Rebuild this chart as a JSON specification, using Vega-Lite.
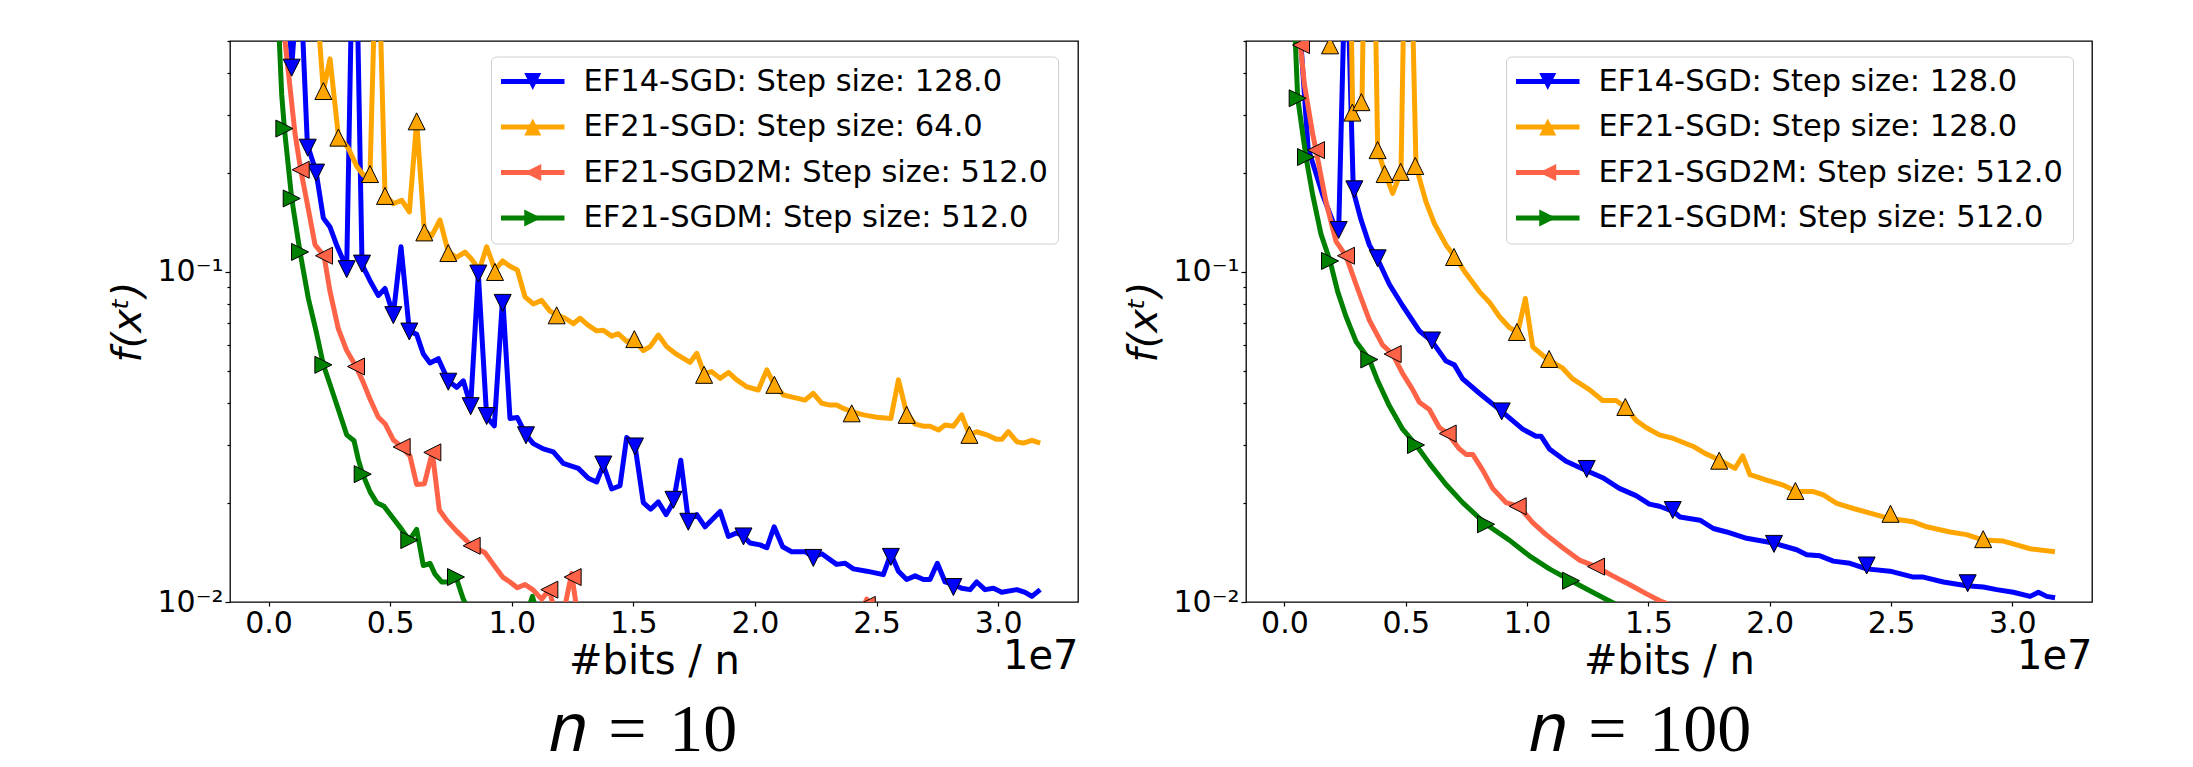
{
  "$schema": "https://vega.github.io/schema/vega-lite/v6.json",
  "autosize": {"type": "none"},
  "padding": {"left": 230, "top": 41, "right": 1963, "bottom": 726},
  "background": "white",
  "spacing": 168,
  "bounds": "flush",
  "datasets": {
    "lines10": [
      {"method":"EF14-SGD","x":0,"f":4},{"method":"EF14-SGD","x":0.063,"f":1.2},{"method":"EF14-SGD","x":0.0952,"f":0.416},{"method":"EF14-SGD","x":0.127,"f":0.9},{"method":"EF14-SGD","x":0.1597,"f":0.243},{"method":"EF14-SGD","x":0.1953,"f":0.2015},{"method":"EF14-SGD","x":0.2254,"f":0.1456},{"method":"EF14-SGD","x":0.2528,"f":0.1368},{"method":"EF14-SGD","x":0.2829,"f":0.1192},{"method":"EF14-SGD","x":0.3214,"f":0.1027},{"method":"EF14-SGD","x":0.353,"f":2.0},{"method":"EF14-SGD","x":0.3844,"f":0.1053},{"method":"EF14-SGD","x":0.4172,"f":0.0941},{"method":"EF14-SGD","x":0.4515,"f":0.0848},{"method":"EF14-SGD","x":0.4789,"f":0.0891},{"method":"EF14-SGD","x":0.5131,"f":0.0742},{"method":"EF14-SGD","x":0.5447,"f":0.1192},{"method":"EF14-SGD","x":0.5789,"f":0.0663},{"method":"EF14-SGD","x":0.6091,"f":0.0647},{"method":"EF14-SGD","x":0.6365,"f":0.0564},{"method":"EF14-SGD","x":0.6639,"f":0.053},{"method":"EF14-SGD","x":0.6981,"f":0.0546},{"method":"EF14-SGD","x":0.7392,"f":0.0468},{"method":"EF14-SGD","x":0.7735,"f":0.0447},{"method":"EF14-SGD","x":0.8009,"f":0.0468},{"method":"EF14-SGD","x":0.8311,"f":0.0393},{"method":"EF14-SGD","x":0.8626,"f":0.0989},{"method":"EF14-SGD","x":0.8969,"f":0.0364},{"method":"EF14-SGD","x":0.9284,"f":0.0342},{"method":"EF14-SGD","x":0.9627,"f":0.0841},{"method":"EF14-SGD","x":0.9928,"f":0.036},{"method":"EF14-SGD","x":1.023,"f":0.0362},{"method":"EF14-SGD","x":1.0586,"f":0.0321},{"method":"EF14-SGD","x":1.0888,"f":0.0302},{"method":"EF14-SGD","x":1.1299,"f":0.0291},{"method":"EF14-SGD","x":1.171,"f":0.0285},{"method":"EF14-SGD","x":1.2121,"f":0.0263},{"method":"EF14-SGD","x":1.2738,"f":0.0254},{"method":"EF14-SGD","x":1.315,"f":0.0237},{"method":"EF14-SGD","x":1.3492,"f":0.0231},{"method":"EF14-SGD","x":1.3766,"f":0.026},{"method":"EF14-SGD","x":1.4109,"f":0.022},{"method":"EF14-SGD","x":1.4452,"f":0.0225},{"method":"EF14-SGD","x":1.4726,"f":0.0315},{"method":"EF14-SGD","x":1.5068,"f":0.0298},{"method":"EF14-SGD","x":1.5411,"f":0.02},{"method":"EF14-SGD","x":1.5713,"f":0.0191},{"method":"EF14-SGD","x":1.603,"f":0.0201},{"method":"EF14-SGD","x":1.635,"f":0.0184},{"method":"EF14-SGD","x":1.665,"f":0.0201},{"method":"EF14-SGD","x":1.695,"f":0.0269},{"method":"EF14-SGD","x":1.726,"f":0.0177},{"method":"EF14-SGD","x":1.761,"f":0.0184},{"method":"EF14-SGD","x":1.795,"f":0.0169},{"method":"EF14-SGD","x":1.857,"f":0.0188},{"method":"EF14-SGD","x":1.891,"f":0.0158},{"method":"EF14-SGD","x":1.925,"f":0.0162},{"method":"EF14-SGD","x":1.953,"f":0.0158},{"method":"EF14-SGD","x":1.98,"f":0.0151},{"method":"EF14-SGD","x":2.021,"f":0.0149},{"method":"EF14-SGD","x":2.049,"f":0.0146},{"method":"EF14-SGD","x":2.079,"f":0.0169},{"method":"EF14-SGD","x":2.114,"f":0.0147},{"method":"EF14-SGD","x":2.151,"f":0.0142},{"method":"EF14-SGD","x":2.206,"f":0.0142},{"method":"EF14-SGD","x":2.24,"f":0.0137},{"method":"EF14-SGD","x":2.275,"f":0.014},{"method":"EF14-SGD","x":2.336,"f":0.013},{"method":"EF14-SGD","x":2.371,"f":0.0131},{"method":"EF14-SGD","x":2.405,"f":0.0126},{"method":"EF14-SGD","x":2.46,"f":0.0124},{"method":"EF14-SGD","x":2.528,"f":0.0121},{"method":"EF14-SGD","x":2.559,"f":0.014},{"method":"EF14-SGD","x":2.59,"f":0.0124},{"method":"EF14-SGD","x":2.624,"f":0.0117},{"method":"EF14-SGD","x":2.659,"f":0.012},{"method":"EF14-SGD","x":2.693,"f":0.0117},{"method":"EF14-SGD","x":2.72,"f":0.0117},{"method":"EF14-SGD","x":2.75,"f":0.0131},{"method":"EF14-SGD","x":2.782,"f":0.0115},{"method":"EF14-SGD","x":2.816,"f":0.0113},{"method":"EF14-SGD","x":2.85,"f":0.011},{"method":"EF14-SGD","x":2.885,"f":0.0109},{"method":"EF14-SGD","x":2.912,"f":0.0115},{"method":"EF14-SGD","x":2.946,"f":0.0109},{"method":"EF14-SGD","x":2.981,"f":0.011},{"method":"EF14-SGD","x":3.015,"f":0.0107},{"method":"EF14-SGD","x":3.077,"f":0.0109},{"method":"EF14-SGD","x":3.111,"f":0.0107},{"method":"EF14-SGD","x":3.139,"f":0.0104},{"method":"EF14-SGD","x":3.173,"f":0.0109},
      {"method":"EF21-SGD","x":0,"f":5},{"method":"EF21-SGD","x":0.1,"f":2},{"method":"EF21-SGD","x":0.19,"f":0.8},{"method":"EF21-SGD","x":0.2254,"f":0.3534},{"method":"EF21-SGD","x":0.2528,"f":0.4424},{"method":"EF21-SGD","x":0.2871,"f":0.2587},{"method":"EF21-SGD","x":0.3282,"f":0.237},{"method":"EF21-SGD","x":0.3625,"f":0.2092},{"method":"EF21-SGD","x":0.3899,"f":0.1966},{"method":"EF21-SGD","x":0.4172,"f":0.1966},{"method":"EF21-SGD","x":0.447,"f":1.3},{"method":"EF21-SGD","x":0.4789,"f":0.1713},{"method":"EF21-SGD","x":0.5131,"f":0.1609},{"method":"EF21-SGD","x":0.5474,"f":0.165},{"method":"EF21-SGD","x":0.5789,"f":0.152},{"method":"EF21-SGD","x":0.6091,"f":0.2859},{"method":"EF21-SGD","x":0.6406,"f":0.1335},{"method":"EF21-SGD","x":0.6707,"f":0.1286},{"method":"EF21-SGD","x":0.705,"f":0.1437},{"method":"EF21-SGD","x":0.7392,"f":0.1149},{"method":"EF21-SGD","x":0.7735,"f":0.1107},{"method":"EF21-SGD","x":0.8078,"f":0.1149},{"method":"EF21-SGD","x":0.8352,"f":0.1093},{"method":"EF21-SGD","x":0.8667,"f":0.1014},{"method":"EF21-SGD","x":0.8969,"f":0.1192},{"method":"EF21-SGD","x":0.9311,"f":0.1014},{"method":"EF21-SGD","x":0.9627,"f":0.108},{"method":"EF21-SGD","x":0.9928,"f":0.104},{"method":"EF21-SGD","x":1.023,"f":0.1014},{"method":"EF21-SGD","x":1.0545,"f":0.0841},{"method":"EF21-SGD","x":1.0888,"f":0.08},{"method":"EF21-SGD","x":1.123,"f":0.082},{"method":"EF21-SGD","x":1.1573,"f":0.0761},{"method":"EF21-SGD","x":1.1847,"f":0.0742},{"method":"EF21-SGD","x":1.219,"f":0.0724},{"method":"EF21-SGD","x":1.2533,"f":0.0697},{"method":"EF21-SGD","x":1.2807,"f":0.0724},{"method":"EF21-SGD","x":1.315,"f":0.0689},{"method":"EF21-SGD","x":1.3492,"f":0.0663},{"method":"EF21-SGD","x":1.3766,"f":0.0666},{"method":"EF21-SGD","x":1.4109,"f":0.0639},{"method":"EF21-SGD","x":1.4383,"f":0.065},{"method":"EF21-SGD","x":1.4726,"f":0.0616},{"method":"EF21-SGD","x":1.5041,"f":0.0622},{"method":"EF21-SGD","x":1.5411,"f":0.0578},{"method":"EF21-SGD","x":1.569,"f":0.0594},{"method":"EF21-SGD","x":1.603,"f":0.0644},{"method":"EF21-SGD","x":1.637,"f":0.0594},{"method":"EF21-SGD","x":1.672,"f":0.0567},{"method":"EF21-SGD","x":1.706,"f":0.0547},{"method":"EF21-SGD","x":1.733,"f":0.0532},{"method":"EF21-SGD","x":1.761,"f":0.0567},{"method":"EF21-SGD","x":1.791,"f":0.0493},{"method":"EF21-SGD","x":1.822,"f":0.0499},{"method":"EF21-SGD","x":1.857,"f":0.0476},{"method":"EF21-SGD","x":1.891,"f":0.0496},{"method":"EF21-SGD","x":1.925,"f":0.0471},{"method":"EF21-SGD","x":1.966,"f":0.0449},{"method":"EF21-SGD","x":2.014,"f":0.0439},{"method":"EF21-SGD","x":2.049,"f":0.0505},{"method":"EF21-SGD","x":2.08,"f":0.0455},{"method":"EF21-SGD","x":2.117,"f":0.0424},{"method":"EF21-SGD","x":2.158,"f":0.0417},{"method":"EF21-SGD","x":2.206,"f":0.0409},{"method":"EF21-SGD","x":2.24,"f":0.0429},{"method":"EF21-SGD","x":2.275,"f":0.04},{"method":"EF21-SGD","x":2.309,"f":0.0395},{"method":"EF21-SGD","x":2.336,"f":0.0395},{"method":"EF21-SGD","x":2.364,"f":0.0386},{"method":"EF21-SGD","x":2.398,"f":0.0377},{"method":"EF21-SGD","x":2.446,"f":0.0369},{"method":"EF21-SGD","x":2.501,"f":0.0363},{"method":"EF21-SGD","x":2.559,"f":0.036},{"method":"EF21-SGD","x":2.59,"f":0.0471},{"method":"EF21-SGD","x":2.624,"f":0.0373},{"method":"EF21-SGD","x":2.659,"f":0.0346},{"method":"EF21-SGD","x":2.693,"f":0.0341},{"method":"EF21-SGD","x":2.72,"f":0.0341},{"method":"EF21-SGD","x":2.755,"f":0.0332},{"method":"EF21-SGD","x":2.782,"f":0.0344},{"method":"EF21-SGD","x":2.816,"f":0.0341},{"method":"EF21-SGD","x":2.85,"f":0.0369},{"method":"EF21-SGD","x":2.882,"f":0.0321},{"method":"EF21-SGD","x":2.912,"f":0.0328},{"method":"EF21-SGD","x":2.953,"f":0.0321},{"method":"EF21-SGD","x":2.994,"f":0.0311},{"method":"EF21-SGD","x":3.015,"f":0.0311},{"method":"EF21-SGD","x":3.042,"f":0.0328},{"method":"EF21-SGD","x":3.077,"f":0.0306},{"method":"EF21-SGD","x":3.104,"f":0.0303},{"method":"EF21-SGD","x":3.139,"f":0.0309},{"method":"EF21-SGD","x":3.173,"f":0.0303},
      {"method":"EF21-SGD2M","x":0,"f":5},{"method":"EF21-SGD2M","x":0.032,"f":1.5},{"method":"EF21-SGD2M","x":0.0678,"f":0.5},{"method":"EF21-SGD2M","x":0.0884,"f":0.3623},{"method":"EF21-SGD2M","x":0.109,"f":0.2619},{"method":"EF21-SGD2M","x":0.1323,"f":0.204},{"method":"EF21-SGD2M","x":0.1637,"f":0.155},{"method":"EF21-SGD2M","x":0.1912,"f":0.1208},{"method":"EF21-SGD2M","x":0.2282,"f":0.1119},{"method":"EF21-SGD2M","x":0.2528,"f":0.0872},{"method":"EF21-SGD2M","x":0.2871,"f":0.0672},{"method":"EF21-SGD2M","x":0.3214,"f":0.0578},{"method":"EF21-SGD2M","x":0.3597,"f":0.0517},{"method":"EF21-SGD2M","x":0.3899,"f":0.0462},{"method":"EF21-SGD2M","x":0.4172,"f":0.0412},{"method":"EF21-SGD2M","x":0.4515,"f":0.0363},{"method":"EF21-SGD2M","x":0.4789,"f":0.0347},{"method":"EF21-SGD2M","x":0.5132,"f":0.031},{"method":"EF21-SGD2M","x":0.5474,"f":0.0295},{"method":"EF21-SGD2M","x":0.5817,"f":0.0277},{"method":"EF21-SGD2M","x":0.6091,"f":0.0227},{"method":"EF21-SGD2M","x":0.6406,"f":0.0228},{"method":"EF21-SGD2M","x":0.6735,"f":0.0284},{"method":"EF21-SGD2M","x":0.7023,"f":0.019},{"method":"EF21-SGD2M","x":0.7324,"f":0.0177},{"method":"EF21-SGD2M","x":0.7735,"f":0.0164},{"method":"EF21-SGD2M","x":0.8352,"f":0.0148},{"method":"EF21-SGD2M","x":0.89,"f":0.0141},{"method":"EF21-SGD2M","x":0.9243,"f":0.013},{"method":"EF21-SGD2M","x":0.9627,"f":0.0119},{"method":"EF21-SGD2M","x":0.9928,"f":0.0115},{"method":"EF21-SGD2M","x":1.023,"f":0.01105},{"method":"EF21-SGD2M","x":1.0545,"f":0.0113},{"method":"EF21-SGD2M","x":1.0888,"f":0.01086},{"method":"EF21-SGD2M","x":1.123,"f":0.0102},{"method":"EF21-SGD2M","x":1.1546,"f":0.0109},{"method":"EF21-SGD2M","x":1.1779,"f":0.0093},{"method":"EF21-SGD2M","x":1.2121,"f":0.0092},{"method":"EF21-SGD2M","x":1.2464,"f":0.0122},{"method":"EF21-SGD2M","x":1.2738,"f":0.0088},{"method":"EF21-SGD2M","x":1.4,"f":0.0085},{"method":"EF21-SGD2M","x":1.7,"f":0.0078},{"method":"EF21-SGD2M","x":2.0,"f":0.0072},{"method":"EF21-SGD2M","x":2.42,"f":0.0089},{"method":"EF21-SGD2M","x":2.46,"f":0.0102},{"method":"EF21-SGD2M","x":2.5,"f":0.0088},{"method":"EF21-SGD2M","x":2.8,"f":0.0066},{"method":"EF21-SGD2M","x":3.173,"f":0.0062},
      {"method":"EF21-SGDM","x":0,"f":5},{"method":"EF21-SGDM","x":0.032,"f":0.8},{"method":"EF21-SGDM","x":0.0541,"f":0.345},{"method":"EF21-SGDM","x":0.0651,"f":0.272},{"method":"EF21-SGDM","x":0.0952,"f":0.167},{"method":"EF21-SGDM","x":0.1295,"f":0.1149},{"method":"EF21-SGDM","x":0.1637,"f":0.0831},{"method":"EF21-SGDM","x":0.1953,"f":0.0663},{"method":"EF21-SGDM","x":0.2254,"f":0.0523},{"method":"EF21-SGDM","x":0.2528,"f":0.0456},{"method":"EF21-SGDM","x":0.2871,"f":0.0383},{"method":"EF21-SGDM","x":0.3214,"f":0.0321},{"method":"EF21-SGDM","x":0.3515,"f":0.0308},{"method":"EF21-SGDM","x":0.3692,"f":0.027},{"method":"EF21-SGDM","x":0.3871,"f":0.0244},{"method":"EF21-SGDM","x":0.4172,"f":0.0216},{"method":"EF21-SGDM","x":0.4446,"f":0.02},{"method":"EF21-SGDM","x":0.4747,"f":0.0195},{"method":"EF21-SGDM","x":0.5131,"f":0.0179},{"method":"EF21-SGDM","x":0.5474,"f":0.0166},{"method":"EF21-SGDM","x":0.5789,"f":0.0154},{"method":"EF21-SGDM","x":0.609,"f":0.0166},{"method":"EF21-SGDM","x":0.6364,"f":0.0129},{"method":"EF21-SGDM","x":0.6639,"f":0.0131},{"method":"EF21-SGDM","x":0.6844,"f":0.01215},{"method":"EF21-SGDM","x":0.7118,"f":0.0115},{"method":"EF21-SGDM","x":0.7392,"f":0.0115},{"method":"EF21-SGDM","x":0.7708,"f":0.0119},{"method":"EF21-SGDM","x":0.8009,"f":0.0102},{"method":"EF21-SGDM","x":0.842,"f":0.0088},{"method":"EF21-SGDM","x":0.95,"f":0.008},{"method":"EF21-SGDM","x":1.05,"f":0.0086},{"method":"EF21-SGDM","x":1.085,"f":0.0104},{"method":"EF21-SGDM","x":1.12,"f":0.0085},{"method":"EF21-SGDM","x":1.4,"f":0.0068},{"method":"EF21-SGDM","x":2.0,"f":0.0055},{"method":"EF21-SGDM","x":3.173,"f":0.0045}
    ],
    "marks10": [
      {"series":"EF14-SGD","x":0.0952,"f":0.416},{"series":"EF14-SGD","x":0.1611,"f":0.238},{"series":"EF14-SGD","x":0.1953,"f":0.2},{"series":"EF14-SGD","x":0.3214,"f":0.102},{"series":"EF14-SGD","x":0.3844,"f":0.106},{"series":"EF14-SGD","x":0.5131,"f":0.074},{"series":"EF14-SGD","x":0.5789,"f":0.066},{"series":"EF14-SGD","x":0.7392,"f":0.0465},{"series":"EF14-SGD","x":0.8311,"f":0.0392},{"series":"EF14-SGD","x":0.8626,"f":0.0989},{"series":"EF14-SGD","x":0.8969,"f":0.0366},{"series":"EF14-SGD","x":0.9627,"f":0.0806},{"series":"EF14-SGD","x":1.0586,"f":0.032},{"series":"EF14-SGD","x":1.3766,"f":0.0261},{"series":"EF14-SGD","x":1.5068,"f":0.0296},{"series":"EF14-SGD","x":1.665,"f":0.0204},{"series":"EF14-SGD","x":1.726,"f":0.0175},{"series":"EF14-SGD","x":1.953,"f":0.0158},{"series":"EF14-SGD","x":2.24,"f":0.0136},{"series":"EF14-SGD","x":2.559,"f":0.0137},{"series":"EF14-SGD","x":2.816,"f":0.0111},
      {"series":"EF21-SGD","x":0.2254,"f":0.3534},{"series":"EF21-SGD","x":0.2871,"f":0.2553},{"series":"EF21-SGD","x":0.4172,"f":0.198},{"series":"EF21-SGD","x":0.4789,"f":0.17},{"series":"EF21-SGD","x":0.6091,"f":0.286},{"series":"EF21-SGD","x":0.6406,"f":0.1318},{"series":"EF21-SGD","x":0.7392,"f":0.1141},{"series":"EF21-SGD","x":0.9311,"f":0.1},{"series":"EF21-SGD","x":1.1847,"f":0.0739},{"series":"EF21-SGD","x":1.5041,"f":0.0626},{"series":"EF21-SGD","x":1.791,"f":0.0488},{"series":"EF21-SGD","x":2.08,"f":0.0455},{"series":"EF21-SGD","x":2.398,"f":0.0373},{"series":"EF21-SGD","x":2.624,"f":0.0369},{"series":"EF21-SGD","x":2.882,"f":0.0321},
      {"series":"EF21-SGD2M","x":0.1323,"f":0.204},{"series":"EF21-SGD2M","x":0.2282,"f":0.112},{"series":"EF21-SGD2M","x":0.3597,"f":0.0517},{"series":"EF21-SGD2M","x":0.5474,"f":0.0295},{"series":"EF21-SGD2M","x":0.6735,"f":0.0284},{"series":"EF21-SGD2M","x":0.8352,"f":0.0148},{"series":"EF21-SGD2M","x":1.1546,"f":0.0109},{"series":"EF21-SGD2M","x":1.2505,"f":0.0119},{"series":"EF21-SGD2M","x":2.46,"f":0.0098},
      {"series":"EF21-SGDM","x":0.0651,"f":0.272},{"series":"EF21-SGDM","x":0.0952,"f":0.167},{"series":"EF21-SGDM","x":0.1295,"f":0.115},{"series":"EF21-SGDM","x":0.2254,"f":0.0523},{"series":"EF21-SGDM","x":0.3871,"f":0.0244},{"series":"EF21-SGDM","x":0.5789,"f":0.0154},{"series":"EF21-SGDM","x":0.7708,"f":0.0119}
    ],
    "lines100": [
      {"method":"EF14-SGD","x":0,"f":4},{"method":"EF14-SGD","x":0.032,"f":1.2},{"method":"EF14-SGD","x":0.0974,"f":0.237},{"method":"EF14-SGD","x":0.1575,"f":0.1713},{"method":"EF14-SGD","x":0.2056,"f":0.1385},{"method":"EF14-SGD","x":0.2235,"f":0.1335},{"method":"EF14-SGD","x":0.254,"f":1.1},{"method":"EF14-SGD","x":0.2839,"f":0.1757},{"method":"EF14-SGD","x":0.3156,"f":0.1439},{"method":"EF14-SGD","x":0.3498,"f":0.1208},{"method":"EF14-SGD","x":0.3842,"f":0.1093},{"method":"EF14-SGD","x":0.4323,"f":0.0918},{"method":"EF14-SGD","x":0.4872,"f":0.079},{"method":"EF14-SGD","x":0.556,"f":0.0663},{"method":"EF14-SGD","x":0.6082,"f":0.0616},{"method":"EF14-SGD","x":0.6659,"f":0.0537},{"method":"EF14-SGD","x":0.7003,"f":0.0523},{"method":"EF14-SGD","x":0.7346,"f":0.0474},{"method":"EF14-SGD","x":0.8033,"f":0.0429},{"method":"EF14-SGD","x":0.8954,"f":0.0378},{"method":"EF14-SGD","x":0.982,"f":0.0334},{"method":"EF14-SGD","x":1.0369,"f":0.0318},{"method":"EF14-SGD","x":1.0576,"f":0.0318},{"method":"EF14-SGD","x":1.0919,"f":0.0291},{"method":"EF14-SGD","x":1.1606,"f":0.0267},{"method":"EF14-SGD","x":1.2458,"f":0.025},{"method":"EF14-SGD","x":1.3117,"f":0.0238},{"method":"EF14-SGD","x":1.3804,"f":0.0221},{"method":"EF14-SGD","x":1.4491,"f":0.021},{"method":"EF14-SGD","x":1.5041,"f":0.0198},{"method":"EF14-SGD","x":1.5454,"f":0.0195},{"method":"EF14-SGD","x":1.6028,"f":0.0188},{"method":"EF14-SGD","x":1.6303,"f":0.0181},{"method":"EF14-SGD","x":1.7127,"f":0.0177},{"method":"EF14-SGD","x":1.7677,"f":0.0167},{"method":"EF14-SGD","x":1.8227,"f":0.0163},{"method":"EF14-SGD","x":1.9051,"f":0.0156},{"method":"EF14-SGD","x":2.0151,"f":0.0151},{"method":"EF14-SGD","x":2.1112,"f":0.0144},{"method":"EF14-SGD","x":2.1524,"f":0.0139},{"method":"EF14-SGD","x":2.2074,"f":0.0138},{"method":"EF14-SGD","x":2.2624,"f":0.0133},{"method":"EF14-SGD","x":2.3311,"f":0.0131},{"method":"EF14-SGD","x":2.3998,"f":0.0126},{"method":"EF14-SGD","x":2.496,"f":0.0124},{"method":"EF14-SGD","x":2.5922,"f":0.0119},{"method":"EF14-SGD","x":2.6334,"f":0.0119},{"method":"EF14-SGD","x":2.7158,"f":0.0115},{"method":"EF14-SGD","x":2.812,"f":0.0112},{"method":"EF14-SGD","x":2.8807,"f":0.0111},{"method":"EF14-SGD","x":2.9357,"f":0.0109},{"method":"EF14-SGD","x":3.0044,"f":0.0107},{"method":"EF14-SGD","x":3.0731,"f":0.0104},{"method":"EF14-SGD","x":3.1074,"f":0.0107},{"method":"EF14-SGD","x":3.1418,"f":0.0104},{"method":"EF14-SGD","x":3.1762,"f":0.0103},
      {"method":"EF21-SGD","x":0,"f":5},{"method":"EF21-SGD","x":0.094,"f":2},{"method":"EF21-SGD","x":0.157,"f":1.0},{"method":"EF21-SGD","x":0.188,"f":0.486},{"method":"EF21-SGD","x":0.22,"f":3.0},{"method":"EF21-SGD","x":0.252,"f":8.0},{"method":"EF21-SGD","x":0.2812,"f":0.3},{"method":"EF21-SGD","x":0.3197,"f":0.328},{"method":"EF21-SGD","x":0.349,"f":9.0},{"method":"EF21-SGD","x":0.3843,"f":0.234},{"method":"EF21-SGD","x":0.4159,"f":0.198},{"method":"EF21-SGD","x":0.446,"f":0.173},{"method":"EF21-SGD","x":0.4804,"f":0.201},{"method":"EF21-SGD","x":0.507,"f":3.0},{"method":"EF21-SGD","x":0.5422,"f":0.209},{"method":"EF21-SGD","x":0.5834,"f":0.163},{"method":"EF21-SGD","x":0.6178,"f":0.1403},{"method":"EF21-SGD","x":0.6659,"f":0.1208},{"method":"EF21-SGD","x":0.7044,"f":0.1107},{"method":"EF21-SGD","x":0.7484,"f":0.0989},{"method":"EF21-SGD","x":0.8033,"f":0.0872},{"method":"EF21-SGD","x":0.8446,"f":0.081},{"method":"EF21-SGD","x":0.8858,"f":0.0733},{"method":"EF21-SGD","x":0.927,"f":0.0679},{"method":"EF21-SGD","x":0.9613,"f":0.0655},{"method":"EF21-SGD","x":0.9929,"f":0.0831},{"method":"EF21-SGD","x":1.0232,"f":0.0593},{"method":"EF21-SGD","x":1.085,"f":0.0543},{"method":"EF21-SGD","x":1.1469,"f":0.0511},{"method":"EF21-SGD","x":1.1881,"f":0.0474},{"method":"EF21-SGD","x":1.2568,"f":0.044},{"method":"EF21-SGD","x":1.3117,"f":0.0408},{"method":"EF21-SGD","x":1.3667,"f":0.0408},{"method":"EF21-SGD","x":1.4079,"f":0.0388},{"method":"EF21-SGD","x":1.4491,"f":0.0355},{"method":"EF21-SGD","x":1.4904,"f":0.0338},{"method":"EF21-SGD","x":1.5454,"f":0.0321},{"method":"EF21-SGD","x":1.6028,"f":0.0313},{"method":"EF21-SGD","x":1.6852,"f":0.0296},{"method":"EF21-SGD","x":1.7333,"f":0.0282},{"method":"EF21-SGD","x":1.7952,"f":0.0269},{"method":"EF21-SGD","x":1.857,"f":0.0254},{"method":"EF21-SGD","x":1.8886,"f":0.0277},{"method":"EF21-SGD","x":1.9188,"f":0.0243},{"method":"EF21-SGD","x":1.9875,"f":0.0234},{"method":"EF21-SGD","x":2.0562,"f":0.0226},{"method":"EF21-SGD","x":2.1112,"f":0.0216},{"method":"EF21-SGD","x":2.1799,"f":0.0216},{"method":"EF21-SGD","x":2.2211,"f":0.0211},{"method":"EF21-SGD","x":2.2761,"f":0.0199},{"method":"EF21-SGD","x":2.3448,"f":0.0192},{"method":"EF21-SGD","x":2.4135,"f":0.0186},{"method":"EF21-SGD","x":2.4959,"f":0.0179},{"method":"EF21-SGD","x":2.5921,"f":0.0175},{"method":"EF21-SGD","x":2.647,"f":0.0169},{"method":"EF21-SGD","x":2.7432,"f":0.0163},{"method":"EF21-SGD","x":2.8119,"f":0.016},{"method":"EF21-SGD","x":2.8806,"f":0.0154},{"method":"EF21-SGD","x":2.9631,"f":0.0153},{"method":"EF21-SGD","x":3.018,"f":0.0149},{"method":"EF21-SGD","x":3.073,"f":0.0145},{"method":"EF21-SGD","x":3.176,"f":0.0142},
      {"method":"EF21-SGD2M","x":0,"f":5},{"method":"EF21-SGD2M","x":0.032,"f":1.3},{"method":"EF21-SGD2M","x":0.0641,"f":0.5},{"method":"EF21-SGD2M","x":0.082,"f":0.3715},{"method":"EF21-SGD2M","x":0.1163,"f":0.2619},{"method":"EF21-SGD2M","x":0.13,"f":0.234},{"method":"EF21-SGD2M","x":0.1713,"f":0.163},{"method":"EF21-SGD2M","x":0.2125,"f":0.1238},{"method":"EF21-SGD2M","x":0.2537,"f":0.1119},{"method":"EF21-SGD2M","x":0.2948,"f":0.0918},{"method":"EF21-SGD2M","x":0.3498,"f":0.0715},{"method":"EF21-SGD2M","x":0.4048,"f":0.06},{"method":"EF21-SGD2M","x":0.446,"f":0.0564},{"method":"EF21-SGD2M","x":0.4872,"f":0.0492},{"method":"EF21-SGD2M","x":0.5285,"f":0.044},{"method":"EF21-SGD2M","x":0.556,"f":0.0403},{"method":"EF21-SGD2M","x":0.5972,"f":0.0383},{"method":"EF21-SGD2M","x":0.6384,"f":0.0338},{"method":"EF21-SGD2M","x":0.6728,"f":0.0324},{"method":"EF21-SGD2M","x":0.7209,"f":0.0291},{"method":"EF21-SGD2M","x":0.7484,"f":0.028},{"method":"EF21-SGD2M","x":0.7759,"f":0.028},{"method":"EF21-SGD2M","x":0.8171,"f":0.0251},{"method":"EF21-SGD2M","x":0.8583,"f":0.0221},{"method":"EF21-SGD2M","x":0.9133,"f":0.02},{"method":"EF21-SGD2M","x":0.9655,"f":0.0195},{"method":"EF21-SGD2M","x":1.0232,"f":0.0174},{"method":"EF21-SGD2M","x":1.0782,"f":0.016},{"method":"EF21-SGD2M","x":1.1469,"f":0.0146},{"method":"EF21-SGD2M","x":1.2156,"f":0.0134},{"method":"EF21-SGD2M","x":1.2843,"f":0.0128},{"method":"EF21-SGD2M","x":1.353,"f":0.012},{"method":"EF21-SGD2M","x":1.4217,"f":0.0113},{"method":"EF21-SGD2M","x":1.4904,"f":0.0106},{"method":"EF21-SGD2M","x":1.5454,"f":0.0101},{"method":"EF21-SGD2M","x":1.8,"f":0.0085},{"method":"EF21-SGD2M","x":2.5,"f":0.0065},{"method":"EF21-SGD2M","x":3.176,"f":0.0052},
      {"method":"EF21-SGDM","x":0,"f":5},{"method":"EF21-SGDM","x":0.032,"f":0.85},{"method":"EF21-SGDM","x":0.0545,"f":0.3361},{"method":"EF21-SGDM","x":0.0888,"f":0.2227},{"method":"EF21-SGDM","x":0.1163,"f":0.1713},{"method":"EF21-SGDM","x":0.1506,"f":0.1302},{"method":"EF21-SGDM","x":0.1878,"f":0.108},{"method":"EF21-SGDM","x":0.2194,"f":0.0872},{"method":"EF21-SGDM","x":0.2537,"f":0.0733},{"method":"EF21-SGDM","x":0.2948,"f":0.0616},{"method":"EF21-SGDM","x":0.3498,"f":0.0543},{"method":"EF21-SGDM","x":0.3842,"f":0.0468},{"method":"EF21-SGDM","x":0.4323,"f":0.0393},{"method":"EF21-SGDM","x":0.4872,"f":0.0334},{"method":"EF21-SGDM","x":0.5422,"f":0.0299},{"method":"EF21-SGDM","x":0.5972,"f":0.0263},{"method":"EF21-SGDM","x":0.6659,"f":0.0227},{"method":"EF21-SGDM","x":0.7346,"f":0.02},{"method":"EF21-SGDM","x":0.8308,"f":0.0172},{"method":"EF21-SGDM","x":0.927,"f":0.0154},{"method":"EF21-SGDM","x":1.0094,"f":0.0138},{"method":"EF21-SGDM","x":1.0919,"f":0.0126},{"method":"EF21-SGDM","x":1.1812,"f":0.0116},{"method":"EF21-SGDM","x":1.2705,"f":0.0107},{"method":"EF21-SGDM","x":1.3255,"f":0.0102},{"method":"EF21-SGDM","x":1.36,"f":0.0099},{"method":"EF21-SGDM","x":1.6,"f":0.0082},{"method":"EF21-SGDM","x":2.0,"f":0.0067},{"method":"EF21-SGDM","x":3.176,"f":0.0045}
    ],
    "marks100": [
      {"series":"EF14-SGD","x":0.2235,"f":0.134},{"series":"EF14-SGD","x":0.2881,"f":0.178},{"series":"EF14-SGD","x":0.3842,"f":0.11},{"series":"EF14-SGD","x":0.6082,"f":0.062},{"series":"EF14-SGD","x":0.8954,"f":0.0378},{"series":"EF14-SGD","x":1.2458,"f":0.0253},{"series":"EF14-SGD","x":1.6003,"f":0.019},{"series":"EF14-SGD","x":2.0178,"f":0.015},{"series":"EF14-SGD","x":2.3998,"f":0.0129},{"series":"EF14-SGD","x":2.8161,"f":0.0114},
      {"series":"EF21-SGD","x":0.188,"f":0.486},{"series":"EF21-SGD","x":0.28,"f":0.304},{"series":"EF21-SGD","x":0.317,"f":0.327},{"series":"EF21-SGD","x":0.384,"f":0.234},{"series":"EF21-SGD","x":0.413,"f":0.198},{"series":"EF21-SGD","x":0.479,"f":0.201},{"series":"EF21-SGD","x":0.539,"f":0.2095},{"series":"EF21-SGD","x":0.699,"f":0.111},{"series":"EF21-SGD","x":0.958,"f":0.0658},{"series":"EF21-SGD","x":1.091,"f":0.0545},{"series":"EF21-SGD","x":1.405,"f":0.039},{"series":"EF21-SGD","x":1.792,"f":0.0268},{"series":"EF21-SGD","x":2.106,"f":0.0217},{"series":"EF21-SGD","x":2.498,"f":0.0185},{"series":"EF21-SGD","x":2.88,"f":0.0155},
      {"series":"EF21-SGD2M","x":0.0682,"f":0.487},{"series":"EF21-SGD2M","x":0.13,"f":0.234},{"series":"EF21-SGD2M","x":0.2537,"f":0.112},{"series":"EF21-SGD2M","x":0.446,"f":0.0564},{"series":"EF21-SGD2M","x":0.6728,"f":0.0324},{"series":"EF21-SGD2M","x":0.9613,"f":0.0195},{"series":"EF21-SGD2M","x":1.2843,"f":0.0128},
      {"series":"EF21-SGDM","x":0.0545,"f":0.336},{"series":"EF21-SGDM","x":0.0888,"f":0.223},{"series":"EF21-SGDM","x":0.1878,"f":0.108},{"series":"EF21-SGDM","x":0.3498,"f":0.0543},{"series":"EF21-SGDM","x":0.5422,"f":0.0299},{"series":"EF21-SGDM","x":0.8308,"f":0.0172},{"series":"EF21-SGDM","x":1.1812,"f":0.0116}
    ]
  },
  "hconcat": [
    {
      "width": 848, "height": 561,
      "title": {"text": "𝑛\u2004=\u200410", "orient": "bottom", "anchor": "middle", "font": "Liberation Serif", "fontSize": 68, "fontWeight": "normal", "offset": 16, "dx": -11, "color": "black"},
      "layer": [
        {
          "data": {"name": "lines10"},
          "mark": {"type": "line", "clip": true, "strokeWidth": 5, "strokeJoin": "round"},
          "encoding": {
            "x": {"field": "x", "type": "quantitative", "scale": {"domain": [-0.1585, 3.3285], "nice": false, "zero": false},
                  "axis": {"title": "#bits / n", "values": [0, 0.5, 1, 1.5, 2, 2.5, 3], "format": ".1f", "tickSize": 4, "labelPadding": 2, "titlePadding": 3, "labelFlush": false, "labelOverlap": false}},
            "y": {"field": "f", "type": "quantitative", "scale": {"type": "log", "domain": [0.01, 0.501], "nice": false},
                  "axis": {"title": "f(xᵗ)", "titleFontStyle": "italic", "titlePadding": 8, "values": [0.01, 0.02, 0.03, 0.04, 0.05, 0.06, 0.07, 0.08, 0.09, 0.1, 0.2, 0.3, 0.4, 0.5], "labelExpr": "datum.value == 0.1 ? '10⁻¹' : datum.value == 0.01 ? '10⁻²' : ''", "labelOverlap": false, "labelPadding": 2, "tickSize": {"condition": {"test": "datum.value == 0.1 || datum.value == 0.01", "value": 5}, "value": 3}}},
            "stroke": {"field": "method", "type": "nominal",
                       "scale": {"range": ["#0000ff", "#ffa500", "#ff6347", "#008000"]},
                       "legend": {"title": null, "orient": "none", "legendX": 261, "legendY": 15.5, "direction": "vertical", "symbolType": "stroke", "symbolSize": 4096, "symbolStrokeWidth": 5, "symbolOffset": -3, "labelOffset": 16.5, "labelFontSize": 30.5, "labelFont": "DejaVu Sans", "labelColor": "black", "labelLimit": 1000, "clipHeight": 30, "rowPadding": 14.5, "padding": 10, "fillColor": "rgba(255,255,255,0.85)", "strokeColor": "#d0d0d0", "cornerRadius": 5, "zindex": 1,
                                  "labelExpr": "datum.label + ': Step size: ' + (datum.label == 'EF14-SGD' ? '128.0' : datum.label == 'EF21-SGD' ? '64.0' : '512.0')"}}
          }
        },
        {
          "data": {"name": "marks10"},
          "mark": {"type": "point", "filled": true, "clip": true, "size": 289, "stroke": "black", "strokeWidth": 1, "opacity": 1},
          "encoding": {
            "x": {"field": "x", "type": "quantitative", "scale": {"domain": [-0.1585, 3.3285], "nice": false, "zero": false},
                  "axis": {"title": "1e7", "orient": "bottom", "titleAnchor": "end", "labels": false, "ticks": false, "domain": false, "titlePadding": 34}},
            "y": {"field": "f", "type": "quantitative", "scale": {"type": "log", "domain": [0.01, 0.501], "nice": false},
                  "axis": {"title": "f(xᵗ)", "titleFontStyle": "italic", "titlePadding": 8, "values": [0.01, 0.02, 0.03, 0.04, 0.05, 0.06, 0.07, 0.08, 0.09, 0.1, 0.2, 0.3, 0.4, 0.5], "labelExpr": "datum.value == 0.1 ? '10⁻¹' : datum.value == 0.01 ? '10⁻²' : ''", "labelOverlap": false, "labelPadding": 2, "tickSize": {"condition": {"test": "datum.value == 0.1 || datum.value == 0.01", "value": 5}, "value": 3}}},
            "fill": {"field": "series", "type": "nominal",
                     "scale": {"domain": ["EF14-SGD", "EF21-SGD", "EF21-SGD2M", "EF21-SGDM"], "range": ["#0000ff", "#ffa500", "#ff6347", "#008000"]},
                     "legend": {"title": null, "orient": "none", "legendX": 261, "legendY": 15.5, "direction": "vertical", "symbolSize": 289, "symbolStrokeColor": "black", "symbolStrokeWidth": 1, "symbolOpacity": 1, "symbolOffset": 16.5, "labelOffset": 16.5, "labelFontSize": 30.5, "labelFont": "DejaVu Sans", "labelLimit": 1000, "clipHeight": 30, "rowPadding": 14.5, "padding": 10, "zindex": 2, "labelExpr": "''"}},
            "shape": {"field": "series", "type": "nominal",
                      "scale": {"domain": ["EF14-SGD", "EF21-SGD", "EF21-SGD2M", "EF21-SGDM"], "range": ["M-1,-1L1,-1L0,1Z", "M0,-1L-1,1L1,1Z", "M-1,0L1,-1L1,1Z", "M1,0L-1,-1L-1,1Z"]},
                      "legend": {"title": null, "orient": "none", "legendX": 261, "legendY": 15.5, "direction": "vertical", "symbolSize": 289, "symbolStrokeColor": "black", "symbolStrokeWidth": 1, "symbolOpacity": 1, "symbolOffset": 16.5, "labelOffset": 16.5, "labelFontSize": 30.5, "labelFont": "DejaVu Sans", "labelLimit": 1000, "clipHeight": 30, "rowPadding": 14.5, "padding": 10, "zindex": 2, "labelExpr": "''"}}
          }
        }
      ],
      "resolve": {"scale": {"x": "independent"}, "axis": {"x": "independent"}}
    },
    {
      "width": 846, "height": 561,
      "title": {"text": "𝑛\u2004=\u2004100", "orient": "bottom", "anchor": "middle", "font": "Liberation Serif", "fontSize": 68, "fontWeight": "normal", "offset": 16, "dx": -29, "color": "black"},
      "layer": [
        {
          "data": {"name": "lines100"},
          "mark": {"type": "line", "clip": true, "strokeWidth": 5, "strokeJoin": "round"},
          "encoding": {
            "x": {"field": "x", "type": "quantitative", "scale": {"domain": [-0.1585, 3.3285], "nice": false, "zero": false},
                  "axis": {"title": "#bits / n", "values": [0, 0.5, 1, 1.5, 2, 2.5, 3], "format": ".1f", "tickSize": 4, "labelPadding": 2, "titlePadding": 3, "labelFlush": false, "labelOverlap": false}},
            "y": {"field": "f", "type": "quantitative", "scale": {"type": "log", "domain": [0.01, 0.501], "nice": false},
                  "axis": {"title": "f(xᵗ)", "titleFontStyle": "italic", "titlePadding": 8, "values": [0.01, 0.02, 0.03, 0.04, 0.05, 0.06, 0.07, 0.08, 0.09, 0.1, 0.2, 0.3, 0.4, 0.5], "labelExpr": "datum.value == 0.1 ? '10⁻¹' : datum.value == 0.01 ? '10⁻²' : ''", "labelOverlap": false, "labelPadding": 2, "tickSize": {"condition": {"test": "datum.value == 0.1 || datum.value == 0.01", "value": 5}, "value": 3}}},
            "stroke": {"field": "method", "type": "nominal",
                       "scale": {"range": ["#0000ff", "#ffa500", "#ff6347", "#008000"]},
                       "legend": {"title": null, "orient": "none", "legendX": 260, "legendY": 15.5, "direction": "vertical", "symbolType": "stroke", "symbolSize": 4096, "symbolStrokeWidth": 5, "symbolOffset": -3, "labelOffset": 16.5, "labelFontSize": 30.5, "labelFont": "DejaVu Sans", "labelColor": "black", "labelLimit": 1000, "clipHeight": 30, "rowPadding": 14.5, "padding": 10, "fillColor": "rgba(255,255,255,0.85)", "strokeColor": "#d0d0d0", "cornerRadius": 5, "zindex": 1,
                                  "labelExpr": "datum.label + ': Step size: ' + (datum.label == 'EF14-SGD' || datum.label == 'EF21-SGD' ? '128.0' : '512.0')"}}
          }
        },
        {
          "data": {"name": "marks100"},
          "mark": {"type": "point", "filled": true, "clip": true, "size": 289, "stroke": "black", "strokeWidth": 1, "opacity": 1},
          "encoding": {
            "x": {"field": "x", "type": "quantitative", "scale": {"domain": [-0.1585, 3.3285], "nice": false, "zero": false},
                  "axis": {"title": "1e7", "orient": "bottom", "titleAnchor": "end", "labels": false, "ticks": false, "domain": false, "titlePadding": 34}},
            "y": {"field": "f", "type": "quantitative", "scale": {"type": "log", "domain": [0.01, 0.501], "nice": false},
                  "axis": {"title": "f(xᵗ)", "titleFontStyle": "italic", "titlePadding": 8, "values": [0.01, 0.02, 0.03, 0.04, 0.05, 0.06, 0.07, 0.08, 0.09, 0.1, 0.2, 0.3, 0.4, 0.5], "labelExpr": "datum.value == 0.1 ? '10⁻¹' : datum.value == 0.01 ? '10⁻²' : ''", "labelOverlap": false, "labelPadding": 2, "tickSize": {"condition": {"test": "datum.value == 0.1 || datum.value == 0.01", "value": 5}, "value": 3}}},
            "fill": {"field": "series", "type": "nominal",
                     "scale": {"domain": ["EF14-SGD", "EF21-SGD", "EF21-SGD2M", "EF21-SGDM"], "range": ["#0000ff", "#ffa500", "#ff6347", "#008000"]},
                     "legend": {"title": null, "orient": "none", "legendX": 260, "legendY": 15.5, "direction": "vertical", "symbolSize": 289, "symbolStrokeColor": "black", "symbolStrokeWidth": 1, "symbolOpacity": 1, "symbolOffset": 16.5, "labelOffset": 16.5, "labelFontSize": 30.5, "labelFont": "DejaVu Sans", "labelLimit": 1000, "clipHeight": 30, "rowPadding": 14.5, "padding": 10, "zindex": 2, "labelExpr": "''"}},
            "shape": {"field": "series", "type": "nominal",
                      "scale": {"domain": ["EF14-SGD", "EF21-SGD", "EF21-SGD2M", "EF21-SGDM"], "range": ["M-1,-1L1,-1L0,1Z", "M0,-1L-1,1L1,1Z", "M-1,0L1,-1L1,1Z", "M1,0L-1,-1L-1,1Z"]},
                      "legend": {"title": null, "orient": "none", "legendX": 260, "legendY": 15.5, "direction": "vertical", "symbolSize": 289, "symbolStrokeColor": "black", "symbolStrokeWidth": 1, "symbolOpacity": 1, "symbolOffset": 16.5, "labelOffset": 16.5, "labelFontSize": 30.5, "labelFont": "DejaVu Sans", "labelLimit": 1000, "clipHeight": 30, "rowPadding": 14.5, "padding": 10, "zindex": 2, "labelExpr": "''"}}
          }
        }
      ],
      "resolve": {"scale": {"x": "independent"}, "axis": {"x": "independent"}}
    }
  ],
  "resolve": {
    "scale": {"x": "independent", "y": "independent", "stroke": "independent", "fill": "independent", "shape": "independent"},
    "legend": {"stroke": "independent", "fill": "independent", "shape": "independent"}
  },
  "config": {
    "view": {"stroke": "black", "strokeWidth": 1.3},
    "font": "DejaVu Sans",
    "axis": {"labelFont": "DejaVu Sans", "titleFont": "DejaVu Sans", "labelColor": "black", "titleColor": "black", "tickColor": "black", "grid": false, "domain": false, "labelFontSize": 30, "titleFontSize": 40, "titleFontWeight": "normal", "tickWidth": 1.2}
  }
}
